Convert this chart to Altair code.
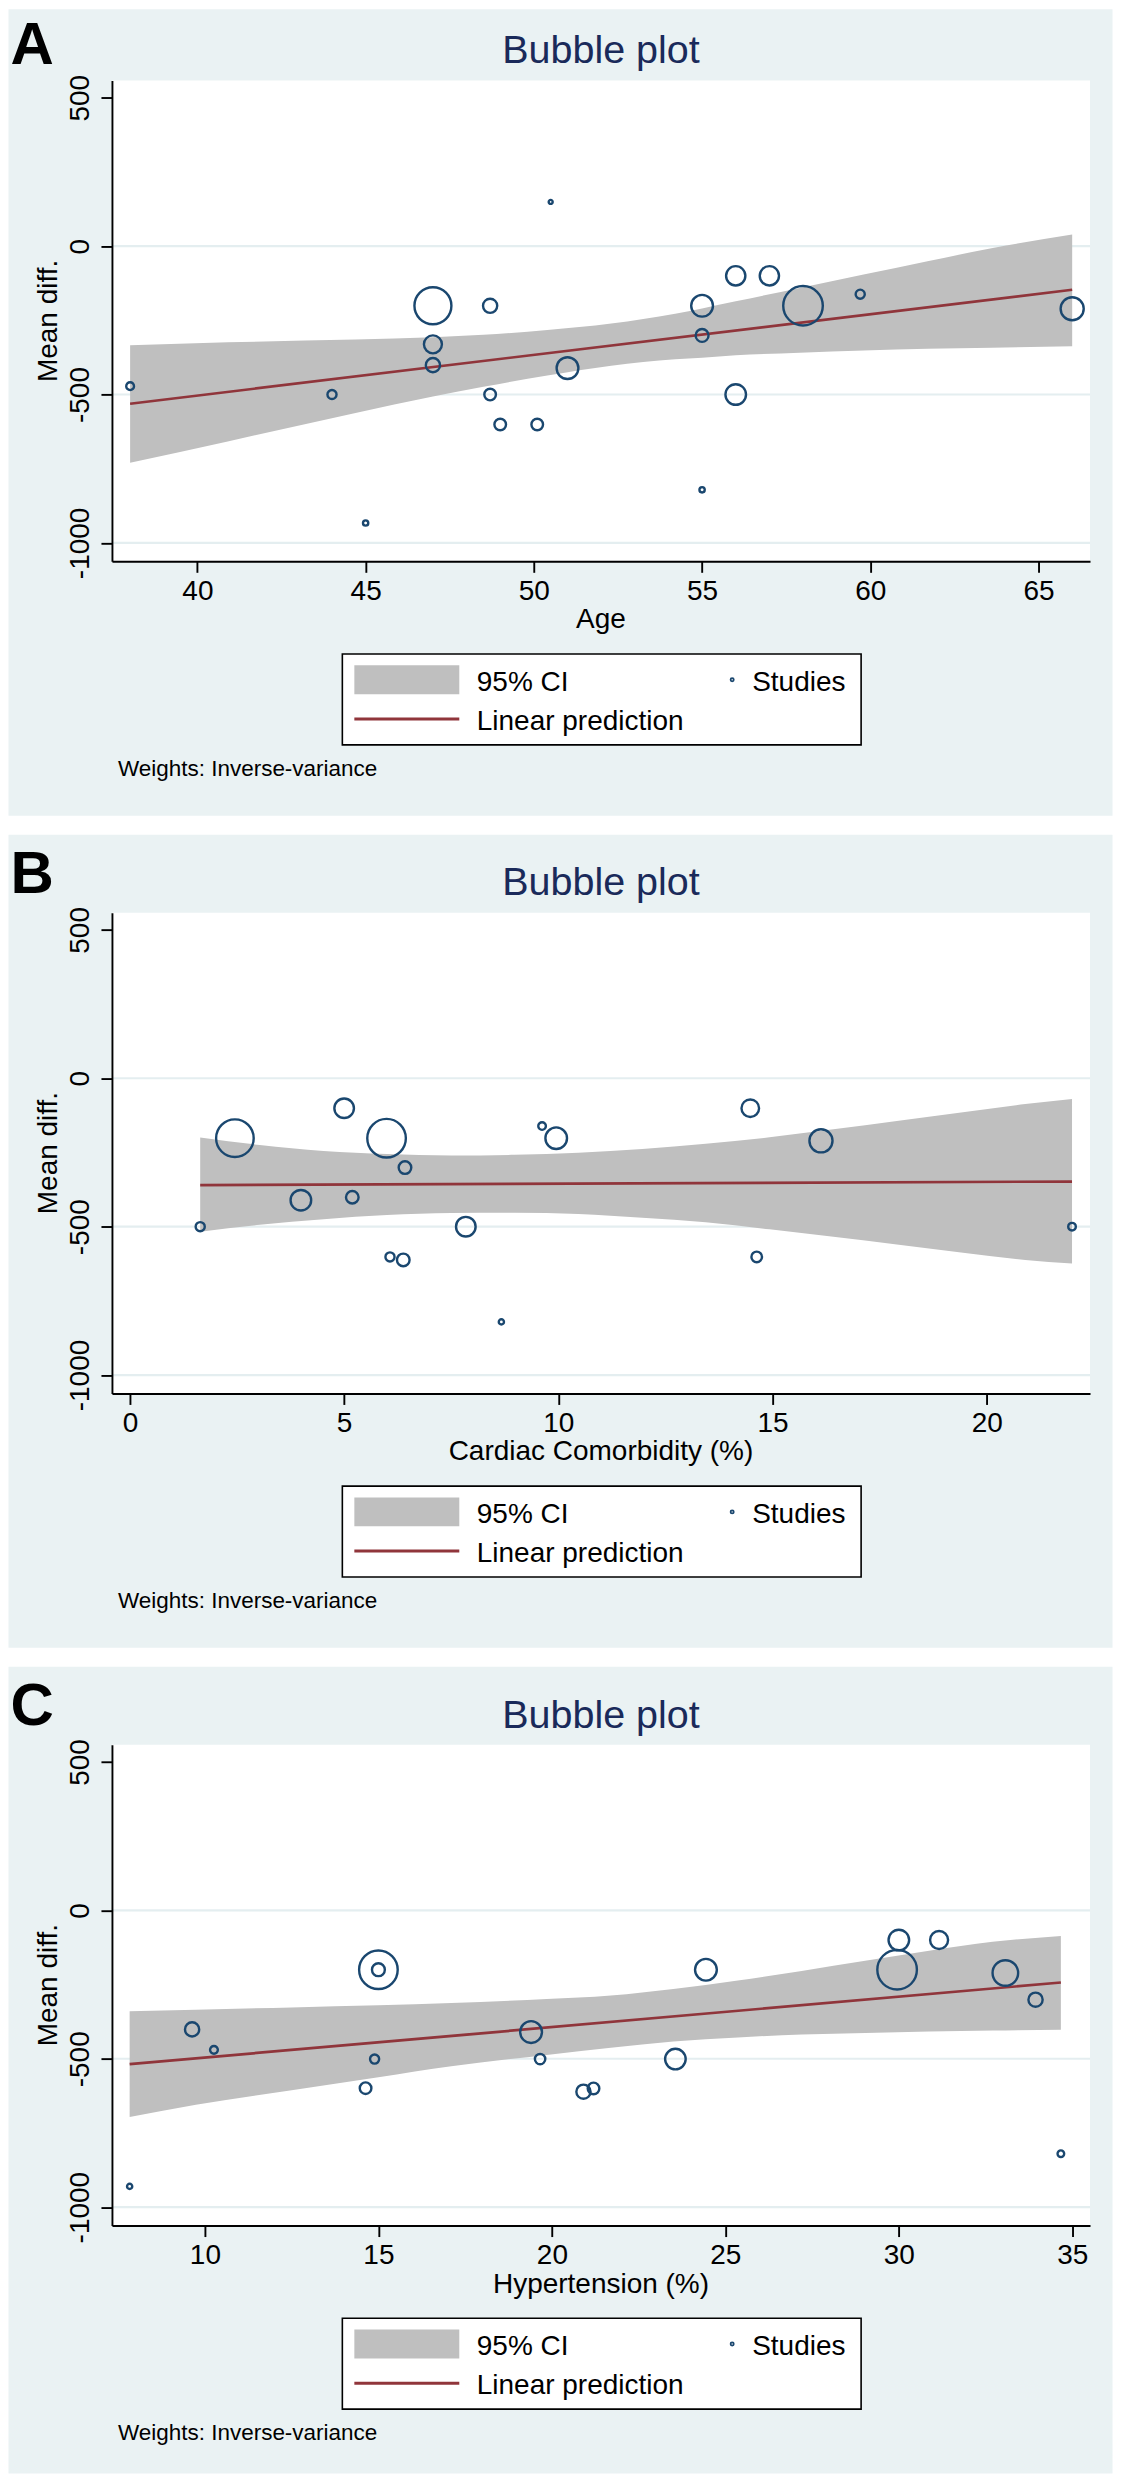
import altair as alt
import pandas as pd

# ---------------- data ----------------
# Panel A: Age
a_x = [38, 44, 45, 47, 47, 47, 48.7, 48.7, 49.0, 50.1, 50.5, 51.0, 55.0, 55.0, 55.0, 56.0, 56.0, 57.0, 58.0, 59.7, 66.0]
a_y = [-472, -500, -933, -201, -331, -401, -201, -500, -601, -601, 149, -411, -201, -301, -821, -100, -500, -100, -201, -162, -211]
a_w = [6.1, 8.3, 2.8, 136.9, 32.4, 20.2, 20.2, 13.5, 13.5, 13.5, 1.6, 47.5, 47.5, 16.6, 2.8, 37.2, 42.4, 37.2, 156.8, 8.3, 53.4]
a_fit_x = [38, 66]
a_fit_y = [-531, -147]
a_ci_x = [38, 40.9, 44.7, 47, 48.5, 50.4, 52.3, 54.2, 55, 56, 57.9, 59.8, 61.7, 63.6, 66]
a_ci_hi = [-334, -324, -315, -307, -299, -283, -261, -228, -210, -186, -141, -96, -51, -7, 39]
a_ci_lo = [-730, -658, -562, -507, -474, -436, -403, -381, -376, -368, -359, -352, -346, -342, -337]

# Panel B: Cardiac Comorbidity (%)
b_x = [1.64, 2.45, 3.99, 5.0, 5.19, 5.99, 6.07, 6.38, 6.42, 7.84, 8.67, 9.62, 9.95, 14.48, 14.63, 16.13, 21.99]
b_y = [-500, -202, -411, -101, -401, -202, -602, -612, -301, -500, -821, -161, -202, -101, -602, -211, -500]
b_w = [8.3, 141.4, 42.4, 38.4, 15.9, 149.0, 8.3, 15.9, 15.9, 38.4, 2.7, 5.8, 46.7, 31.0, 11.2, 53.4, 5.8]
b_fit_x = [1.64, 21.99]
b_fit_y = [-360, -348]
b_ci_x = [1.64, 3.03, 4.52, 6.0, 7.5, 8.98, 10.47, 11.96, 13.44, 14.93, 16.42, 17.9, 19.4, 20.9, 21.99]
b_ci_hi = [-200, -225, -245, -255, -260, -258, -251, -238, -221, -199, -172, -144, -115, -87, -70]
b_ci_lo = [-517, -494, -475, -461, -454, -453, -457, -470, -485, -509, -534, -560, -587, -612, -624]

# Panel C: Hypertension (%)
c_x = [7.83, 9.63, 10.26, 14.63, 14.89, 15.0, 15.0, 19.40, 19.66, 20.91, 21.2, 23.56, 24.44, 29.95, 30.0, 31.16, 33.07, 33.94, 34.67]
c_y = [-930, -401, -470, -599, -501, -200, -200, -410, -501, -611, -600, -501, -200, -200, -100, -100, -211, -301, -820]
c_w = [2.7, 20.2, 6.1, 13.5, 8.3, 149.0, 16.6, 47.5, 10.8, 20.2, 13.5, 42.4, 47.5, 156.8, 42.4, 32.4, 65.5, 20.2, 4.4]
c_fit_x = [7.83, 34.67]
c_fit_y = [-518, -243]
c_ci_x = [7.83, 9.74, 12.5, 15, 17.1, 19.85, 21.7, 23.5, 25.36, 27.2, 29.03, 30.87, 32.7, 34.67]
c_ci_hi = [-340, -335, -327, -320, -312, -299, -287, -265, -236, -204, -170, -136, -106, -86]
c_ci_lo = [-696, -655, -606, -562, -525, -487, -463, -442, -428, -418, -413, -408, -405, -402]

y_ticks = [500, 0, -500, -1000]
y_grid = [0, -500, -1000]
y_domain = [-1062, 558]

# ---------------- styles ----------------
FONT = "Liberation Sans, Arial, Helvetica, sans-serif"
BG = "#EAF2F3"
GRID = "#E4EEF0"
BAND = "#BFBFBF"
NAVY = "#1A476F"
MAROON = "#90353B"
TITLE_C = "#1A2A5A"
W = 978.5
H = 481


def one():
    return alt.Chart(pd.DataFrame({"k": [0]}))


def text(t, x, y, size=28, align="left", angle=0, weight="normal", color="black", baseline="alphabetic"):
    return one().mark_text(
        text=t, font=FONT, fontSize=size, align=align, baseline=baseline,
        angle=angle, fontWeight=weight, color=color,
    ).encode(x=alt.value(x), y=alt.value(y))


def panel(letter, xtitle, xs, ys, ws, fx, fy, cx, chi, clo, xdomain, xticks, top, bottom, letter_y):
    xscale = alt.Scale(domain=xdomain, nice=False, zero=False)
    yscale = alt.Scale(domain=y_domain, nice=False, zero=False)
    xaxis = alt.Axis(
        values=xticks, title=None, grid=False, tickSize=11, tickWidth=1.9, tickColor="black",
        domainColor="black", domainWidth=1.9, labelFont=FONT, labelFontSize=28,
        labelColor="black", labelPadding=27, labelBaseline="alphabetic", labelAngle=0,
        labelFlush=False, labelOverlap=False, zindex=1,
    )
    yaxis = alt.Axis(
        values=y_ticks, title=None, grid=False, tickSize=11, tickWidth=1.9, tickColor="black",
        domainColor="black", domainWidth=1.9, labelFont=FONT, labelFontSize=28,
        labelColor="black", labelPadding=12.5, labelAngle=270, labelAlign="center",
        labelBaseline="alphabetic", labelExpr="'' + datum.value", labelFlush=False,
        labelOverlap=False, zindex=1,
    )
    X = lambda f: alt.X(f, type="quantitative", scale=xscale, axis=xaxis)
    Y = lambda f: alt.Y(f, type="quantitative", scale=yscale, axis=yaxis)

    bg = one().mark_rect(color=BG).encode(
        x=alt.value(-103.5), x2=alt.value(W + 22.5), y=alt.value(top), y2=alt.value(H + bottom)
    )
    white = one().mark_rect(color="white").encode(
        x=alt.value(0), x2=alt.value(W), y=alt.value(0), y2=alt.value(H)
    )
    grid = alt.Chart(pd.DataFrame({"g": y_grid})).mark_rule(color=GRID, strokeWidth=2.2).encode(
        y=Y("g")
    )
    band = alt.Chart(pd.DataFrame({"x": cx, "lo": clo, "hi": chi})).mark_area(
        color=BAND, opacity=1, interpolate="monotone"
    ).encode(x=X("x"), y=Y("lo"), y2="hi")
    fit = alt.Chart(pd.DataFrame({"x": fx, "y": fy})).mark_line(
        color=MAROON, strokeWidth=2.7
    ).encode(x=X("x"), y=Y("y"))
    pts = alt.Chart(pd.DataFrame({"x": xs, "y": ys, "w": ws})).mark_point(
        shape="circle", filled=False, color=NAVY, strokeWidth=2.4, opacity=1
    ).encode(
        x=X("x"), y=Y("y"),
        size=alt.Size("w:Q", scale=alt.Scale(type="linear", domain=[0, 100], range=[0, 1000]), legend=None),
    )

    # legend box
    lbox = one().mark_rect(fill="white", stroke="black", strokeWidth=1.6).encode(
        x=alt.value(230.5), x2=alt.value(749.5), y=alt.value(H + 92.7), y2=alt.value(H + 183.7)
    )
    lswatch = one().mark_rect(color=BAND).encode(
        x=alt.value(242.5), x2=alt.value(347.5), y=alt.value(H + 104), y2=alt.value(H + 133)
    )
    lline = one().mark_rule(color=MAROON, strokeWidth=3).encode(
        x=alt.value(242.5), x2=alt.value(347.5), y=alt.value(H + 157.7)
    )
    lpt = one().mark_point(shape="circle", filled=False, color=NAVY, strokeWidth=1.8, size=10, opacity=1).encode(
        x=alt.value(620.5), y=alt.value(H + 118.5)
    )

    layers = [
        bg, white, grid, band, fit, pts,
        text(letter, -101.5, letter_y, size=60, weight="bold"),
        text("Bubble plot", W / 2, -17.2, size=39.5, align="center", color=TITLE_C),
        text(xtitle, W / 2, H + 67, size=28, align="center"),
        text("Mean diff.", -54.5, H / 2, size=28, align="center", angle=270),
        lbox, lswatch, lline, lpt,
        text("95% CI", 365, H + 129.3),
        text("Studies", 640.5, H + 129.3),
        text("Linear prediction", 365, H + 168.5),
        text("Weights: Inverse-variance", 6, H + 215, size=22.5),
    ]
    return alt.layer(*layers).properties(width=W, height=H)


pA = panel("A", "Age", a_x, a_y, a_w, a_fit_x, a_fit_y, a_ci_x, a_ci_hi, a_ci_lo,
           [37.46, 66.53], [40, 45, 50, 55, 60, 65], -71.3, 254.5, -17)
pB = panel("B", "Cardiac Comorbidity (%)", b_x, b_y, b_w, b_fit_x, b_fit_y, b_ci_x, b_ci_hi, b_ci_lo,
           [-0.42, 22.41], [0, 5, 10, 15, 20], -78, 254.5, -20)
pC = panel("C", "Hypertension (%)", c_x, c_y, c_w, c_fit_x, c_fit_y, c_ci_x, c_ci_hi, c_ci_lo,
           [7.32, 35.51], [10, 15, 20, 25, 30, 35], -78, 248, -20)

chart = alt.vconcat(pA, pB, pC, spacing=18.5).properties(
    padding=0, background="white"
).configure_view(stroke=None, fill=None)

chart.save("out.html", embed_options={"renderer": "svg", "actions": False})
